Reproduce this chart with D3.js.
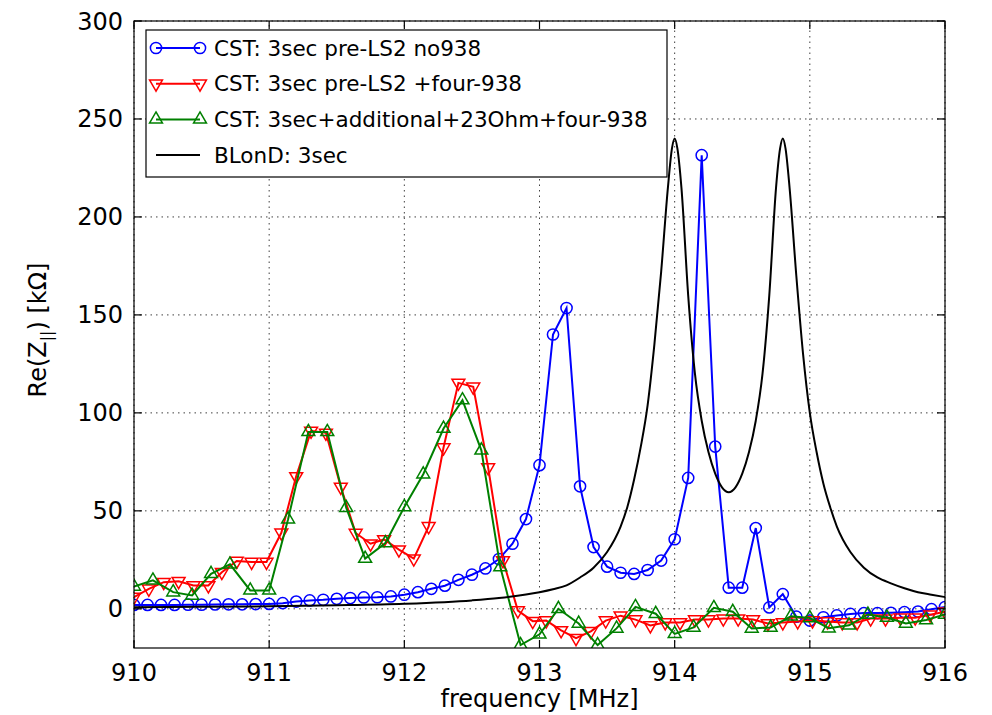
<!DOCTYPE html>
<html>
<head>
<meta charset="utf-8">
<title>Re(Z) vs frequency</title>
<script src="https://d3js.org/d3.v7.min.js"></script>
<style>
  body { margin: 0; background: #fff; }
  svg { display: block; font-family: "DejaVu Sans", sans-serif; }
</style>
</head>
<body>
<svg width="992" height="715"></svg>
<script>
// CST: 3sec pre-LS2 no938 (blue circles)
const blueFreq = [910.0, 910.1, 910.2, 910.3, 910.4, 910.5, 910.6, 910.7, 910.8, 910.9,
  911.0, 911.1, 911.2, 911.3, 911.4, 911.5, 911.6, 911.7, 911.8, 911.9,
  912.0, 912.1, 912.2, 912.3, 912.4, 912.5, 912.6, 912.7, 912.8, 912.9,
  913.0, 913.1, 913.2, 913.3, 913.4, 913.5, 913.6, 913.7, 913.8, 913.9,
  914.0, 914.1, 914.2, 914.3, 914.4, 914.5, 914.6, 914.7, 914.8, 914.9,
  915.0, 915.1, 915.2, 915.3, 915.4, 915.5, 915.6, 915.7, 915.8, 915.9, 916.0];
const blueVals = [2.0, 2.0, 2.0, 2.0, 2.1, 2.1, 2.2, 2.3, 2.3, 2.4,
  2.5, 2.9, 3.7, 4.3, 4.6, 5.1, 5.5, 5.8, 5.9, 6.3,
  7.2, 8.5, 10.2, 11.8, 14.8, 17.4, 20.6, 25.4, 33.2, 45.8,
  73.3, 140, 153.5, 62.5, 31.5, 21.5, 18.4, 17.8, 19.8, 24.6,
  35.5, 66.8, 231.5, 82.8, 10.8, 10.8, 41.2, 0.7, 7.5, -4,
  -6, -4.3, -3.4, -2.6, -2.2, -2.2, -2.0, -1.7, -1.4, -0.2, 0.9];

// CST: 3sec pre-LS2 +four-938 (red down triangles)
const redFreq = [910.00, 910.11, 910.22, 910.33, 910.44, 910.55, 910.65, 910.76, 910.87, 910.98,
  911.09, 911.20, 911.31, 911.42, 911.53, 911.64, 911.75, 911.85, 911.96, 912.07,
  912.18, 912.29, 912.40, 912.51, 912.62, 912.73, 912.84, 912.95, 913.05, 913.16,
  913.27, 913.38, 913.49, 913.60, 913.71, 913.82, 913.93, 914.04, 914.15, 914.25,
  914.36, 914.47, 914.58, 914.69, 914.80, 914.91, 915.02, 915.13, 915.24, 915.35,
  915.45, 915.56, 915.67, 915.78, 915.89, 916.00];
const redVals = [6, 10.2, 13.6, 14.1, 11.9, 11.9, 18.7, 24.4, 23.9, 23.9,
  38.8, 67.6, 90.8, 89.8, 62.2, 38.7, 33.2, 35.4, 30.2, 25.6,
  42.1, 82.3, 115.3, 113.3, 72.1, 24.7, -0.9, -6.3, -6, -11,
  -15, -11.5, -6, -3.5, -5.5, -8.5, -7, -7, -5.5, -5.5,
  -5, -5, -5.5, -7.5, -7, -6.5, -6, -6.5, -7, -7,
  -5, -5, -4.5, -4.5, -3, -1.5];

// CST: 3sec+additional+23Ohm+four-938 (green up triangles)
const greenFreq = [910.00, 910.14, 910.29, 910.43, 910.57, 910.71, 910.86, 911.00, 911.14, 911.29,
  911.43, 911.57, 911.71, 911.86, 912.00, 912.14, 912.29, 912.43, 912.57, 912.71,
  912.86, 913.00, 913.14, 913.29, 913.43, 913.57, 913.71, 913.86, 914.00, 914.14,
  914.29, 914.43, 914.57, 914.71, 914.86, 915.00, 915.14, 915.29, 915.43, 915.57,
  915.71, 915.86, 916.00];
const greenVals = [11.4, 14.5, 8.5, 6.8, 17.9, 22.7, 9.4, 9.4, 45.7, 90.3,
  90.3, 51.6, 25.6, 33.6, 52, 68.7, 92, 106.5, 80.9, 21.3,
  -18.5, -13, 0, -7.5, -18.5, -10, 1, -2.5, -12.8, -9.5,
  0.5, -1.5, -10, -9.5, -3.8, -4.7, -9.9, -8.4, -2.9, -4.4,
  -7.5, -5.7, -2.9];

// BLonD: 3sec (black line)
const blondFreq = [910.0, 910.5, 911.0, 911.5, 912.0, 912.5, 912.7, 912.9, 913.0, 913.1,
  913.2, 913.3, 913.4, 913.5, 913.6, 913.65, 913.7, 913.75, 913.8, 913.85,
  913.9, 913.95, 913.98, 914.0, 914.02, 914.05, 914.1, 914.15, 914.2, 914.25,
  914.3, 914.35, 914.4, 914.45, 914.5, 914.55, 914.6, 914.65, 914.7, 914.75,
  914.78, 914.8, 914.82, 914.85, 914.9, 914.95, 915.0, 915.05, 915.1, 915.15,
  915.2, 915.3, 915.4, 915.5, 915.6, 915.7, 915.8, 915.9, 916.0];
const blondVals = [0.8, 1.0, 1.3, 1.8, 2.6, 4.3, 5.5, 7.3, 8.5, 10,
  12, 16, 21, 29, 42, 52, 66, 83, 104, 135,
  172, 215, 235, 240, 235, 215, 160, 120, 96, 80,
  69, 62, 59.5, 62, 69, 80, 96, 120, 160, 215,
  235, 240, 235, 215, 170, 130, 100, 80, 64, 52,
  42, 29, 21, 16, 13, 10.5, 8.5, 7.2, 6];

const xTicks = [910, 911, 912, 913, 914, 915, 916];
const yTicks = [0, 50, 100, 150, 200, 250, 300];
const legendLabels = ["CST: 3sec pre-LS2 no938", "CST: 3sec pre-LS2 +four-938",
  "CST: 3sec+additional+23Ohm+four-938", "BLonD: 3sec"];

const svg = d3.select("svg");
const margin = { left: 134, right: 47, top: 21, bottom: 67 };
const W = 992, H = 715;
const x = d3.scaleLinear().domain([910, 916]).range([margin.left, W - margin.right]);
const y = d3.scaleLinear().domain([-20, 300]).range([H - margin.bottom, margin.top]);

// grid
const grid = svg.append("g").attr("stroke", "#000").attr("stroke-width", 1)
  .attr("stroke-dasharray", "1.5,4").attr("opacity", 0.75);
xTicks.forEach(t => grid.append("line").attr("x1", x(t)).attr("x2", x(t))
  .attr("y1", y(-20)).attr("y2", y(300)));
yTicks.forEach(t => grid.append("line").attr("y1", y(t)).attr("y2", y(t))
  .attr("x1", x(910)).attr("x2", x(916)));

svg.append("clipPath").attr("id", "clip").append("rect")
  .attr("x", x(910)).attr("y", y(300))
  .attr("width", x(916) - x(910)).attr("height", y(-20) - y(300));

const plot = svg.append("g").attr("clip-path", "url(#clip)");

const series = [
  { f: blueFreq, v: blueVals, color: "#0000ff", marker: "circle" },
  { f: redFreq, v: redVals, color: "#ff0000", marker: "down" },
  { f: greenFreq, v: greenVals, color: "#008000", marker: "up" }
];

const tri = d3.symbol().type(d3.symbolTriangle).size(72);

function drawMarker(g, mk, color) {
  if (mk === "circle") {
    g.append("circle").attr("r", 5.6).attr("fill", "none")
      .attr("stroke", color).attr("stroke-width", 1.5);
  } else {
    g.append("path").attr("d", tri())
      .attr("transform", mk === "down" ? "rotate(180)" : null)
      .attr("fill", "none").attr("stroke", color).attr("stroke-width", 1.5);
  }
}

series.forEach(s => {
  const pts = s.f.map((f, i) => [f, s.v[i]]);
  plot.append("path").datum(pts)
    .attr("d", d3.line().x(d => x(d[0])).y(d => y(d[1])))
    .attr("fill", "none").attr("stroke", s.color).attr("stroke-width", 2);
  plot.selectAll(null).data(pts).enter().append("g")
    .attr("transform", d => `translate(${x(d[0])},${y(d[1])})`)
    .each(function () { drawMarker(d3.select(this), s.marker, s.color); });
});

const blondPts = blondFreq.map((f, i) => [f, blondVals[i]]);
plot.append("path").datum(blondPts)
  .attr("d", d3.line().x(d => x(d[0])).y(d => y(d[1])).curve(d3.curveMonotoneX))
  .attr("fill", "none").attr("stroke", "#000").attr("stroke-width", 2);

// frame and inward ticks on all sides
svg.append("rect").attr("x", x(910)).attr("y", y(300))
  .attr("width", x(916) - x(910)).attr("height", y(-20) - y(300))
  .attr("fill", "none").attr("stroke", "#000").attr("stroke-width", 1.2);

const tk = svg.append("g").attr("stroke", "#000").attr("stroke-width", 1.2);
xTicks.forEach(t => {
  tk.append("line").attr("x1", x(t)).attr("x2", x(t)).attr("y1", y(-20)).attr("y2", y(-20) - 8);
  tk.append("line").attr("x1", x(t)).attr("x2", x(t)).attr("y1", y(300)).attr("y2", y(300) + 8);
});
yTicks.forEach(t => {
  tk.append("line").attr("y1", y(t)).attr("y2", y(t)).attr("x1", x(910)).attr("x2", x(910) + 8);
  tk.append("line").attr("y1", y(t)).attr("y2", y(t)).attr("x1", x(916)).attr("x2", x(916) - 8);
});

// tick labels
svg.append("g").selectAll("text").data(xTicks).enter().append("text")
  .attr("x", d => x(d)).attr("y", y(-20) + 33)
  .attr("text-anchor", "middle").attr("font-size", 24).attr("fill", "#000")
  .text(d => d);
svg.append("g").selectAll("text").data(yTicks).enter().append("text")
  .attr("x", x(910) - 11).attr("y", d => y(d) + 8.5)
  .attr("text-anchor", "end").attr("font-size", 24).attr("fill", "#000")
  .text(d => d);

// axis labels
svg.append("text").attr("x", (x(910) + x(916)) / 2).attr("y", 707)
  .attr("text-anchor", "middle").attr("font-size", 24).text("frequency [MHz]");

const yl = svg.append("text").attr("transform", "translate(46,330) rotate(-90)")
  .attr("text-anchor", "middle").attr("font-size", 24);
yl.append("tspan").text("Re(Z");
yl.append("tspan").attr("font-size", 16).attr("dy", 6).text("||");
yl.append("tspan").attr("dy", -6).text(") [kΩ]");

// legend
const lg = svg.append("g");
lg.append("rect").attr("x", 146).attr("y", 30).attr("width", 521).attr("height", 147)
  .attr("fill", "#fff").attr("stroke", "#000").attr("stroke-width", 1.2);
const legendStyles = [
  { color: "#0000ff", marker: "circle" },
  { color: "#ff0000", marker: "down" },
  { color: "#008000", marker: "up" },
  { color: "#000", marker: null }
];
legendLabels.forEach((lab, i) => {
  const cy = 48 + i * 35.7;
  const st = legendStyles[i];
  lg.append("line").attr("x1", 156).attr("x2", 200).attr("y1", cy).attr("y2", cy)
    .attr("stroke", st.color).attr("stroke-width", 2);
  if (st.marker) {
    [156, 200].forEach(mx => {
      const g = lg.append("g").attr("transform", `translate(${mx},${cy})`);
      drawMarker(g, st.marker, st.color);
    });
  }
  lg.append("text").attr("x", 214).attr("y", cy + 7.5).attr("font-size", 21.5)
    .attr("fill", "#000").text(lab);
});
</script>
</body>
</html>
